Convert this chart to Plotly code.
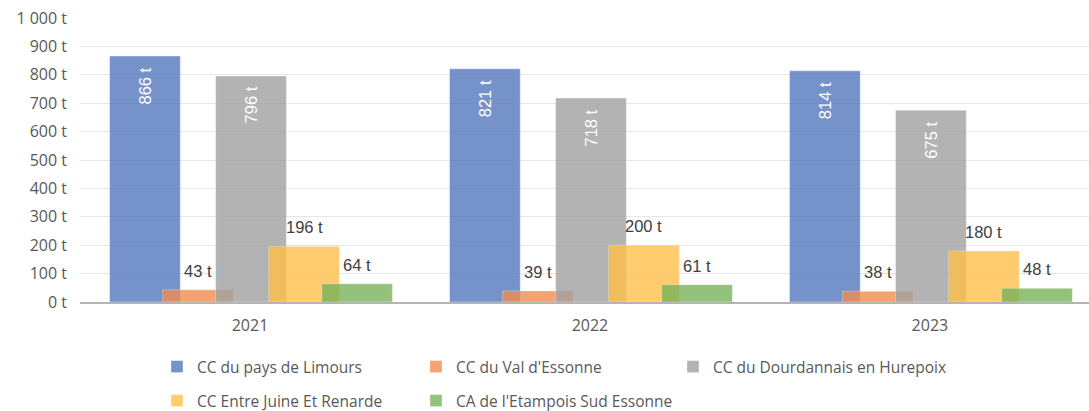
import plotly.graph_objects as go

# Tonnages collected per intercommunal body and year
years = ["2021", "2022", "2023"]
series_names = [
    "CC du pays de Limours",
    "CC du Val d'Essonne",
    "CC du Dourdannais en Hurepoix",
    "CC Entre Juine Et Renarde",
    "CA de l'Etampois Sud Essonne",
]
limours = [866, 821, 814]
val_essonne = [43, 39, 38]
dourdannais = [796, 718, 675]
juine_renarde = [196, 200, 180]
etampois = [64, 61, 48]
series_values = [limours, val_essonne, dourdannais, juine_renarde, etampois]

colors = ["#5477BF", "#F18D50", "#A1A1A1", "#FEBF4A", "#79B35C"]
y_ticks = [0, 100, 200, 300, 400, 500, 600, 700, 800, 900, 1000]
y_tick_text = ["0 t", "100 t", "200 t", "300 t", "400 t", "500 t",
               "600 t", "700 t", "800 t", "900 t", "1 000 t"]

# Overlapping bar layout within each year group
bar_width = 0.208
bar_step = 0.156
first_offset = -0.413
inside_threshold = 300

# Legend grid: one legend box per entry (column, row) in pixels
legend_cols_px = [157, 416, 673]
legend_rows_px = [367, 401]

x_pos = list(range(len(years)))

fig = go.Figure()
annotations = []
legend_layouts = {}
legend_font = dict(family="Open Sans", size=15.5, color="#595959")
for i, (name, vals, col) in enumerate(zip(series_names, series_values, colors)):
    off = first_offset + i * bar_step
    legend_id = "legend" if i == 0 else f"legend{i + 1}"
    fig.add_trace(go.Bar(
        x=x_pos, y=vals, name=name,
        offset=off, width=bar_width,
        marker=dict(color=col, line=dict(width=0.8, color="rgba(255,255,255,0.45)")),
        opacity=0.8,
        legend=legend_id,
        hovertemplate="%{y} t<extra>" + name + "</extra>",
    ))
    legend_layouts[legend_id] = dict(
        orientation="h", xref="container", yref="container",
        xanchor="left", yanchor="middle",
        x=legend_cols_px[i % 3] / 1089, y=1 - legend_rows_px[i // 3] / 411,
        font=legend_font, bgcolor="rgba(0,0,0,0)",
    )
    for j, v in enumerate(vals):
        xc = j + off + bar_width / 2
        if v > inside_threshold:
            annotations.append(dict(
                x=xc, y=v, xref="x", yref="y", text=f"{v} t", showarrow=False,
                textangle=-90, yanchor="top", xanchor="center", yshift=-9,
                font=dict(family="Liberation Sans, Arial", size=16.5, color="#FFFFFF"),
            ))
        else:
            annotations.append(dict(
                x=xc, y=v, xref="x", yref="y", text=f"{v} t", showarrow=False,
                yanchor="bottom", xanchor="center", yshift=8,
                font=dict(family="Liberation Sans, Arial", size=16.5, color="#404040"),
            ))

fig.update_layout(
    width=1089, height=411,
    margin=dict(l=80, r=0, t=18, b=109, autoexpand=False),
    plot_bgcolor="white", paper_bgcolor="white",
    barmode="overlay",
    annotations=annotations,
    xaxis=dict(
        range=[-0.5, 2.468], tickvals=x_pos, ticktext=years,
        showgrid=False, zeroline=False, showline=True,
        linecolor="#B4B4B4", linewidth=2, ticks="",
        tickfont=dict(family="Open Sans", size=16, color="#595959"),
        ticklabelstandoff=8, fixedrange=True,
    ),
    yaxis=dict(
        range=[0, 1000], tickvals=y_ticks, ticktext=y_tick_text,
        showgrid=True, gridcolor="#E6E6E6", gridwidth=1,
        zeroline=False, showline=False, ticks="",
        tickfont=dict(family="Open Sans", size=16, color="#595959"),
        ticklabelstandoff=12, fixedrange=True,
    ),
    showlegend=True,
    **legend_layouts,
)

fig.write_html("out.html")
